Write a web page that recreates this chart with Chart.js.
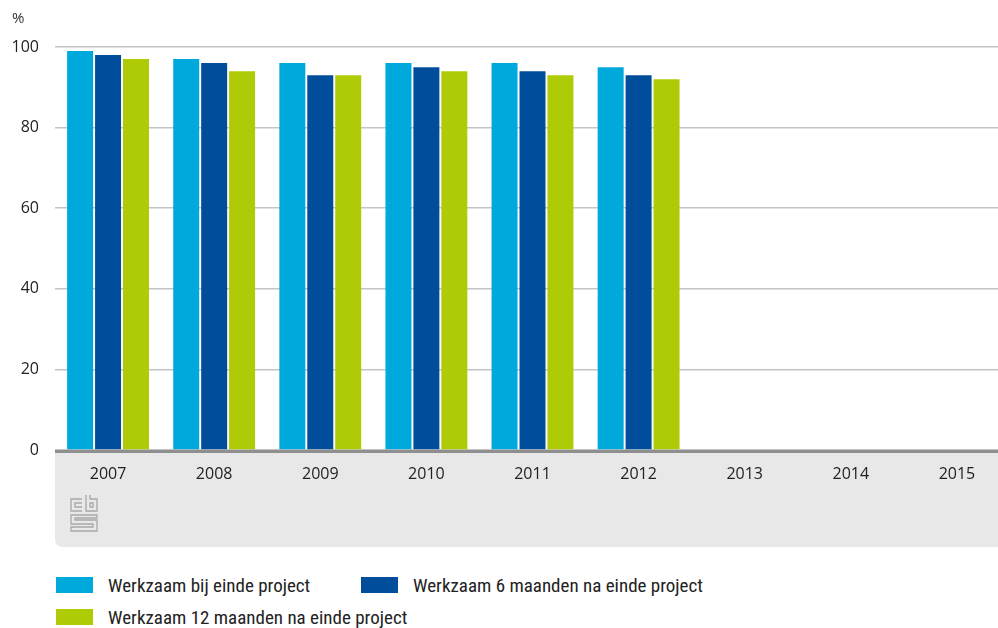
<!DOCTYPE html>
<html>
<head>
<meta charset="utf-8">
<script src="https://cdn.jsdelivr.net/npm/chart.js@4/dist/chart.umd.min.js"></script>
<style>
  html, body { margin: 0; padding: 0; background: #fff; }
  #wrap { position: relative; width: 998px; height: 628px; overflow: hidden; }
  #box { position: absolute; left: 0; top: 0; width: 1010px; height: 548px; }
  #legend { position: absolute; left: 56px; top: 572px; width: 900px;
    font-family: "Liberation Sans Narrow", "Roboto Condensed", "DejaVu Sans Condensed", sans-serif;
    font-size: 19px; color: #222; }
  .item { position: absolute; display: flex; align-items: center; white-space: nowrap; height: 26px; }
  .sw { width: 37px; height: 16px; margin-right: 15px; }
</style>
</head>
<body>
<div id="wrap">
  <div id="box"><canvas id="c"></canvas></div>
  <div id="legend"></div>
</div>
<script>
const categories = ["2007","2008","2009","2010","2011","2012","2013","2014","2015"];
const seriesNames = ["Werkzaam bij einde project","Werkzaam 6 maanden na einde project","Werkzaam 12 maanden na einde project"];
const bijEinde   = [99, 97, 96, 96, 96, 95, null, null, null];
const na6Maanden = [98, 96, 93, 95, 94, 93, null, null, null];
const na12Maanden= [97, 94, 93, 94, 93, 92, null, null, null];
const yTicks = [0, 20, 40, 60, 80, 100];
const colors = ["#00a9dc", "#004d9b", "#afcb05"];

const bgPlugin = {
  id: 'bg',
  beforeDraw(chart) {
    const ctx = chart.ctx, a = chart.chartArea;
    const bottom = chart.height - 1;
    const r = 8;
    ctx.save();
    ctx.fillStyle = '#e8e8e8';
    ctx.beginPath();
    ctx.moveTo(a.left, a.bottom);
    ctx.lineTo(a.right, a.bottom);
    ctx.lineTo(a.right, bottom);
    ctx.lineTo(a.left + r, bottom);
    ctx.quadraticCurveTo(a.left, bottom, a.left, bottom - r);
    ctx.closePath();
    ctx.fill();
    // percent label
    ctx.fillStyle = '#333';
    ctx.font = '15px "Open Sans", sans-serif';
    ctx.textBaseline = 'middle';
    ctx.fillText('%', 12, 19);
    // cbs logo approximation
    ctx.strokeStyle = '#a8a8a8';
    ctx.lineWidth = 1.3;
    const x0 = 71, y0 = a.bottom + 45;
    ctx.beginPath();
    ctx.moveTo(x0 + 11, y0 + 4); ctx.lineTo(x0, y0 + 4); ctx.lineTo(x0, y0 + 16); ctx.lineTo(x0 + 11, y0 + 16);
    ctx.moveTo(x0 + 11, y0 + 8); ctx.lineTo(x0 + 4, y0 + 8); ctx.lineTo(x0 + 4, y0 + 12); ctx.lineTo(x0 + 11, y0 + 12);
    ctx.moveTo(x0 + 15, y0); ctx.lineTo(x0 + 15, y0 + 16); ctx.lineTo(x0 + 26, y0 + 16); ctx.lineTo(x0 + 26, y0 + 4); ctx.lineTo(x0 + 19, y0 + 4); ctx.lineTo(x0 + 19, y0);
    ctx.rect(x0 + 19, y0 + 8, 3, 4);
    ctx.moveTo(x0 + 26, y0 + 20); ctx.lineTo(x0, y0 + 20); ctx.lineTo(x0, y0 + 29); ctx.lineTo(x0 + 22, y0 + 29); ctx.lineTo(x0 + 22, y0 + 32); ctx.lineTo(x0, y0 + 32); ctx.lineTo(x0, y0 + 36); ctx.lineTo(x0 + 26, y0 + 36); ctx.lineTo(x0 + 26, y0 + 25); ctx.lineTo(x0 + 4, y0 + 25); ctx.lineTo(x0 + 4, y0 + 23); ctx.lineTo(x0 + 26, y0 + 23); ctx.closePath();
    ctx.stroke();
    ctx.restore();
  },
  afterDatasetsDraw(chart) {
    const ctx = chart.ctx, a = chart.chartArea;
    ctx.save();
    ctx.fillStyle = '#8f8f8f';
    ctx.fillRect(a.left, a.bottom, a.right - a.left, 3);
    ctx.restore();
  }
};

const chart = new Chart(document.getElementById('c'), {
  type: 'bar',
  data: {
    labels: categories,
    datasets: [
      { label: seriesNames[0], data: bijEinde, backgroundColor: colors[0] },
      { label: seriesNames[1], data: na6Maanden, backgroundColor: colors[1] },
      { label: seriesNames[2], data: na12Maanden, backgroundColor: colors[2] }
    ]
  },
  options: {
    responsive: true,
    maintainAspectRatio: false,
    animation: false,
    layout: { padding: { top: 47, right: 0, bottom: 0, left: 0 } },
    plugins: { legend: { display: false }, tooltip: { enabled: false } },
    datasets: { bar: { categoryPercentage: 0.79, barPercentage: 0.93 } },
    scales: {
      x: {
        grid: { display: false, drawTicks: false },
        border: { display: false },
        ticks: { color: '#222', font: { family: '"Open Sans", sans-serif', size: 16 }, padding: 15, maxRotation: 0 },
        afterFit(s) { s.height = 98; }
      },
      y: {
        min: 0, max: 100,
        afterBuildTicks(s) { s.ticks = yTicks.map(v => ({ value: v })); },
        grid: { color: '#c4c4c4', lineWidth: 1.5, drawTicks: false },
        border: { display: false },
        ticks: { color: '#222', font: { family: '"Open Sans", sans-serif', size: 16 }, padding: 16 },
        afterFit(s) { s.width = 55; }
      }
    }
  },
  plugins: [bgPlugin]
});

const legend = document.getElementById('legend');
const pos = [[0, 0], [305, 0], [0, 32]];
chart.data.datasets.forEach((ds, i) => {
  const it = document.createElement('div');
  it.className = 'item';
  it.style.left = pos[i][0] + 'px';
  it.style.top = pos[i][1] + 'px';
  const sw = document.createElement('div');
  sw.className = 'sw';
  sw.style.background = ds.backgroundColor;
  const tx = document.createElement('span');
  tx.textContent = ds.label;
  it.appendChild(sw); it.appendChild(tx);
  legend.appendChild(it);
});
</script>
</body>
</html>
